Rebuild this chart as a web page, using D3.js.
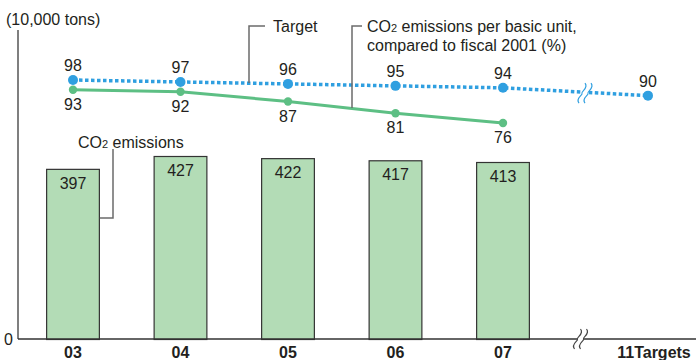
<!DOCTYPE html>
<html>
<head>
<meta charset="utf-8">
<script src="https://cdn.jsdelivr.net/npm/d3@7"></script>
<style>
  html, body { margin: 0; padding: 0; background: #fff; }
  svg { display: block; font-family: "Liberation Sans", Arial, Helvetica, sans-serif; }
</style>
</head>
<body>
<svg id="chart" width="696" height="360"></svg>
<script>
// Fiscal years shown as bars, plus the fiscal 2011 target
const years = ["03", "04", "05", "06", "07"];
const targetLabel = "11Targets";

// CO2 emissions (10,000 tons)
const emissions = [397, 427, 422, 417, 413];

// CO2 emissions per basic unit, compared to fiscal 2001 (%)
const actualPct = [93, 92, 87, 81, 76];
const targetPct = [98, 97, 96, 95, 94];
const targetPct2011 = 90;

const yTicks = [0];

const svg = d3.select("#chart");
const ink = "#231f20";
const barFill = "#b3dcb6";
const blue = "#2f9fe0";
const green = "#5dbf84";
const leader = "#6b6b6b";

const baseY = 339, topY = 30, axisX = 18;

// Scales
const x = d3.scaleBand().domain(years).range([19.25, 556.75])
  .paddingInner(0.5).paddingOuter(0.25);
const cx = d => x(d) + x.bandwidth() / 2;
const targetX = cx("07") + 145;

const y = d3.scaleLinear().domain([0, 721]).range([baseY, topY]);
const yPct = d3.scaleLinear().domain([76, 98]).range([123, 80]);

// Unit label
svg.append("text").attr("x", 6).attr("y", 25)
  .attr("font-size", 16).attr("fill", ink).text("(10,000 tons)");

// Y axis (only the zero tick is labelled)
const yAxis = d3.axisLeft(y).tickValues(yTicks).tickSize(0).tickPadding(5);
const gy = svg.append("g").attr("transform", `translate(${axisX},0)`).call(yAxis);
gy.select(".domain").remove();
gy.selectAll("text").attr("font-size", 16).attr("fill", ink)
  .attr("font-family", "Liberation Sans, Arial, sans-serif");
svg.append("line").attr("x1", axisX).attr("x2", axisX)
  .attr("y1", topY).attr("y2", baseY).attr("stroke", "#555").attr("stroke-width", 1.5);

// Bars
svg.append("g").selectAll("rect").data(emissions).join("rect")
  .attr("x", (d, i) => x(years[i]) + 0.5)
  .attr("y", d => y(d) + 0.5)
  .attr("width", x.bandwidth() - 1)
  .attr("height", d => baseY - y(d))
  .attr("fill", barFill).attr("stroke", "#333").attr("stroke-width", 1.2);

svg.append("g").selectAll("text").data(emissions).join("text")
  .attr("x", (d, i) => cx(years[i]))
  .attr("y", d => y(d) + 20)
  .attr("text-anchor", "middle").attr("font-size", 16).attr("fill", ink)
  .text(d => d);

// Baseline with a break before the target column
const breakX = 580;
svg.append("line").attr("x1", axisX).attr("x2", breakX - 3)
  .attr("y1", baseY).attr("y2", baseY).attr("stroke", "#333").attr("stroke-width", 1.5);
svg.append("line").attr("x1", breakX + 4).attr("x2", 696)
  .attr("y1", baseY).attr("y2", baseY).attr("stroke", "#333").attr("stroke-width", 1.5);

function squiggle(g, sx, sy, h, color) {
  [-3, 3].forEach(off => {
    const px = sx + off;
    g.append("path")
      .attr("d", `M${px + 3},${sy - h / 2} C${px + 7},${sy - h / 4} ${px - 1},${sy - h / 10} ${px},${sy}` +
                 ` C${px + 1},${sy + h / 10} ${px - 7},${sy + h / 4} ${px - 3},${sy + h / 2}`)
      .attr("fill", "none").attr("stroke", color).attr("stroke-width", 1.2);
  });
}
squiggle(svg, breakX + 0.5, baseY, 20, "#444");

// X axis labels
const xLabels = svg.append("g");
xLabels.selectAll("text").data(years).join("text")
  .attr("x", d => cx(d)).attr("y", 358)
  .attr("text-anchor", "middle").attr("font-size", 16).attr("font-weight", "bold")
  .attr("fill", ink).text(d => d);
xLabels.append("text").attr("x", targetX + 6).attr("y", 358)
  .attr("text-anchor", "middle").attr("font-size", 16).attr("font-weight", "bold")
  .attr("fill", ink).text(targetLabel);

// Target line (dotted), running through the break to fiscal 2011
const targetPts = targetPct.map((v, i) => [cx(years[i]), yPct(v)])
  .concat([[targetX, yPct(targetPct2011)]]);
const line = d3.line();
svg.append("path").attr("d", line(targetPts))
  .attr("fill", "none").attr("stroke", blue).attr("stroke-width", 3.5)
  .attr("stroke-dasharray", "3.5,2.5");

// Gap in the target line at the break
const p0 = targetPts[4], p1 = targetPts[5];
const bx = 585, by = p0[1] + (p1[1] - p0[1]) * (bx - p0[0]) / (p1[0] - p0[0]);
svg.append("rect").attr("x", bx - 4).attr("y", by - 8).attr("width", 8).attr("height", 16)
  .attr("fill", "#fff");
squiggle(svg, bx, by + 1, 20, blue);

svg.append("g").selectAll("circle").data(targetPts).join("circle")
  .attr("cx", d => d[0]).attr("cy", d => d[1]).attr("r", 5).attr("fill", blue);

const targetVals = targetPct.concat([targetPct2011]);
svg.append("g").selectAll("text").data(targetPts).join("text")
  .attr("x", d => d[0]).attr("y", d => d[1] - 9)
  .attr("text-anchor", "middle").attr("font-size", 16).attr("fill", ink)
  .text((d, i) => targetVals[i]);

// Actual per-unit line
const actualPts = actualPct.map((v, i) => [cx(years[i]), yPct(v)]);
svg.append("path").attr("d", line(actualPts))
  .attr("fill", "none").attr("stroke", green).attr("stroke-width", 3);
svg.append("g").selectAll("circle").data(actualPts).join("circle")
  .attr("cx", d => d[0]).attr("cy", d => d[1]).attr("r", 4.2).attr("fill", green);
svg.append("g").selectAll("text").data(actualPts).join("text")
  .attr("x", d => d[0]).attr("y", d => d[1] + 20)
  .attr("text-anchor", "middle").attr("font-size", 16).attr("fill", ink)
  .text((d, i) => actualPct[i]);

// Callouts
const callout = svg.append("g").attr("fill", "none").attr("stroke", leader).attr("stroke-width", 1.5);
callout.append("path").attr("d", `M265,26 H249 V${yPct(96.5)}`);
callout.append("path").attr("d", `M362,26 H352 V108`);
callout.append("path").attr("d", `M113,149 V218 H${x("03") + x.bandwidth()}`);

const notes = svg.append("g").attr("font-size", 16).attr("fill", ink);
notes.append("text").attr("x", 273).attr("y", 32).text("Target");
const t1 = notes.append("text").attr("x", 367).attr("y", 32);
t1.append("tspan").text("CO");
t1.append("tspan").attr("font-size", 11).text("2");
t1.append("tspan").text(" emissions per basic unit,");
notes.append("text").attr("x", 367).attr("y", 51).text("compared to fiscal 2001 (%)");
const t2 = notes.append("text").attr("x", 78).attr("y", 148);
t2.append("tspan").text("CO");
t2.append("tspan").attr("font-size", 11).text("2");
t2.append("tspan").text(" emissions");
</script>
</body>
</html>
